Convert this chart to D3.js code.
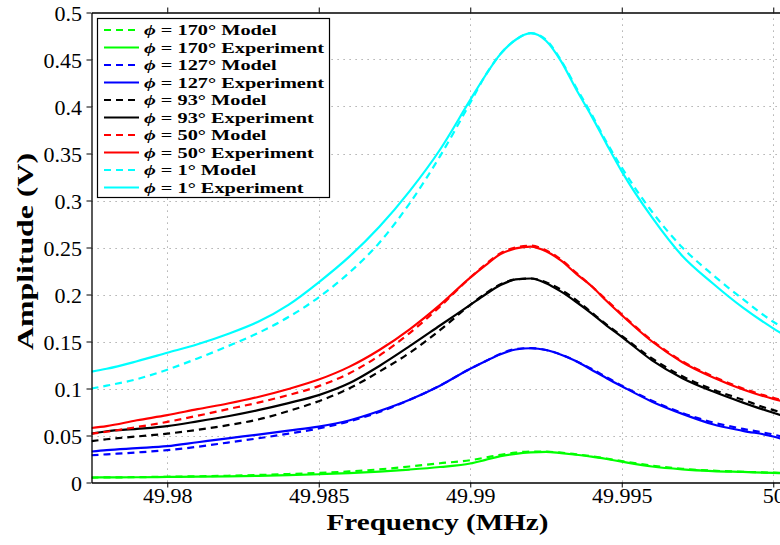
<!DOCTYPE html>
<html>
<head>
<meta charset="utf-8">
<script src="https://cdn.jsdelivr.net/npm/d3@7"></script>
<style>
  body { margin: 0; background: #fff; }
  svg { display: block; }
  .serif { font-family: "Liberation Serif", "Times New Roman", Times, serif; }
</style>
</head>
<body>
<svg id="chart" width="780" height="545"></svg>
<script>
// Frequency samples (MHz)
const freq = [49.9775, 49.978, 49.979, 49.980, 49.981, 49.982, 49.983, 49.984, 49.985, 49.986,
              49.987, 49.988, 49.989, 49.990, 49.9905, 49.991, 49.9915, 49.992, 49.9925, 49.993,
              49.9935, 49.994, 49.9945, 49.995, 49.996, 49.997, 49.998, 49.999, 50.000, 50.00025];

// Amplitude (V) per phase angle: model and measured
const model170 = [0.0052, 0.0054, 0.0057, 0.0061, 0.0066, 0.0072, 0.0080, 0.0090, 0.0102, 0.0118,
                  0.0140, 0.0170, 0.0205, 0.0237, 0.0265, 0.0295, 0.0318, 0.0330, 0.0328, 0.0318,
                  0.0300, 0.0280, 0.0255, 0.0228, 0.0180, 0.0146, 0.0126, 0.0114, 0.0104, 0.0101];
const exp170   = [0.0053, 0.0054, 0.0056, 0.0059, 0.0062, 0.0066, 0.0071, 0.0078, 0.0088, 0.0100,
                  0.0116, 0.0138, 0.0165, 0.0202, 0.0240, 0.0280, 0.0305, 0.0320, 0.0326, 0.0312,
                  0.0295, 0.0275, 0.0250, 0.0222, 0.0170, 0.0140, 0.0122, 0.0112, 0.0102, 0.0100];
const model127 = [0.029, 0.030, 0.032, 0.0344, 0.038, 0.0425, 0.047, 0.052, 0.0575, 0.065,
                  0.075, 0.088, 0.103, 0.121, 0.129, 0.137, 0.142, 0.143, 0.141, 0.136,
                  0.129, 0.121, 0.112, 0.103, 0.087, 0.074, 0.064, 0.057, 0.051, 0.049];
const exp127   = [0.033, 0.0345, 0.0365, 0.0386, 0.0428, 0.047, 0.051, 0.0552, 0.0595, 0.066,
                  0.076, 0.088, 0.103, 0.121, 0.129, 0.1365, 0.1415, 0.1428, 0.141, 0.136,
                  0.129, 0.120, 0.111, 0.1024, 0.086, 0.073, 0.062, 0.055, 0.049, 0.0466];
const model93  = [0.044, 0.046, 0.049, 0.052, 0.056, 0.061, 0.067, 0.076, 0.0865, 0.100,
                  0.118, 0.138, 0.162, 0.189, 0.201, 0.211, 0.216, 0.217, 0.213, 0.205,
                  0.194, 0.181, 0.168, 0.156, 0.132, 0.113, 0.099, 0.088, 0.077, 0.075];
const exp93    = [0.052, 0.0545, 0.057, 0.060, 0.065, 0.0705, 0.077, 0.0845, 0.093, 0.1055,
                  0.124, 0.145, 0.167, 0.189, 0.200, 0.210, 0.216, 0.217, 0.212, 0.203,
                  0.192, 0.180, 0.167, 0.155, 0.130, 0.111, 0.097, 0.085, 0.0742, 0.0716];
const model50  = [0.052, 0.054, 0.059, 0.0645, 0.071, 0.078, 0.085, 0.093, 0.1025, 0.116,
                  0.135, 0.159, 0.187, 0.218, 0.232, 0.244, 0.250, 0.252, 0.247, 0.237,
                  0.223, 0.209, 0.194, 0.179, 0.151, 0.129, 0.113, 0.100, 0.090, 0.088];
const exp50    = [0.058, 0.060, 0.0662, 0.0716, 0.078, 0.084, 0.091, 0.0995, 0.1095, 0.123,
                  0.141, 0.163, 0.189, 0.218, 0.231, 0.243, 0.249, 0.251, 0.246, 0.236,
                  0.222, 0.209, 0.193, 0.178, 0.150, 0.128, 0.112, 0.099, 0.089, 0.087];
const model1   = [0.100, 0.103, 0.110, 0.120, 0.132, 0.145, 0.159, 0.176, 0.197, 0.223,
                  0.255, 0.297, 0.347, 0.404, 0.433, 0.456, 0.471, 0.478, 0.471, 0.449,
                  0.420, 0.392, 0.362, 0.335, 0.288, 0.250, 0.221, 0.195, 0.171, 0.166];
const exp1     = [0.118, 0.121, 0.129, 0.138, 0.147, 0.158, 0.171, 0.189, 0.213, 0.240,
                  0.272, 0.310, 0.354, 0.407, 0.433, 0.456, 0.471, 0.478, 0.470, 0.448,
                  0.418, 0.390, 0.360, 0.331, 0.282, 0.241, 0.212, 0.186, 0.164, 0.159];

// Series in plotting / legend order
const seriesAngles = ["170", "170", "127", "127", "93", "93", "50", "50", "1", "1"];
const seriesKinds  = ["Model", "Experiment", "Model", "Experiment", "Model", "Experiment",
                      "Model", "Experiment", "Model", "Experiment"];
const seriesValues = [model170, exp170, model127, exp127, model93, exp93, model50, exp50, model1, exp1];
const seriesColors = ["#00ff00", "#00ff00", "#0000ff", "#0000ff", "#000000", "#000000",
                      "#ff0000", "#ff0000", "#00ffff", "#00ffff"];

// Tick labels
const xTicks = [49.98, 49.985, 49.99, 49.995, 50];
const xTickLabels = ["49.98", "49.985", "49.99", "49.995", "50"];
const yTicks = [0, 0.05, 0.1, 0.15, 0.2, 0.25, 0.3, 0.35, 0.4, 0.45, 0.5];
const yTickLabels = ["0", "0.05", "0.1", "0.15", "0.2", "0.25", "0.3", "0.35", "0.4", "0.45", "0.5"];

const svg = d3.select("#chart");
const plot = { left: 91.5, top: 12.5, bottom: 482.5, right: 788.4 };

const x = d3.scaleLinear().domain([49.9775, 50.0005]).range([plot.left, plot.right]);
const y = d3.scaleLinear().domain([0, 0.5]).range([plot.bottom, plot.top]);

// Dotted grid
const grid = svg.append("g").attr("stroke", "#9a9a9a").attr("stroke-width", 1)
  .attr("stroke-dasharray", "1.2,4.8").attr("fill", "none");
grid.selectAll("line.gx").data(xTicks).join("line")
  .attr("x1", d => Math.round(x(d)) + 0.5).attr("x2", d => Math.round(x(d)) + 0.5)
  .attr("y1", plot.top).attr("y2", plot.bottom);
grid.selectAll("line.gy").data(yTicks.slice(1, -1)).join("line")
  .attr("x1", plot.left).attr("x2", 780)
  .attr("y1", d => Math.round(y(d)) + 0.5).attr("y2", d => Math.round(y(d)) + 0.5);

// Curves
svg.append("clipPath").attr("id", "plotClip").append("rect")
  .attr("x", plot.left).attr("y", plot.top)
  .attr("width", plot.right - plot.left).attr("height", plot.bottom - plot.top);

const line = d3.line().x((d, i) => x(freq[i])).y(d => y(d)).curve(d3.curveMonotoneX);
svg.append("g").attr("clip-path", "url(#plotClip)")
  .selectAll("path").data(seriesValues).join("path")
  .attr("d", d => line(d))
  .attr("fill", "none")
  .attr("stroke", (d, i) => seriesColors[i])
  .attr("stroke-width", 2.2)
  .attr("stroke-linejoin", "round")
  .attr("stroke-dasharray", (d, i) => seriesKinds[i] === "Model" ? "7,5" : null);

// Axes
function styleAxis(g) {
  g.attr("font-family", null).attr("font-size", null);
  g.select(".domain").attr("stroke", "#000").attr("stroke-width", 1.3);
  g.selectAll(".tick line").attr("stroke", "#000").attr("stroke-width", 1);
  g.selectAll(".tick text").attr("class", "serif").style("font-size", "22px").attr("fill", "#000");
}

svg.append("g").attr("transform", `translate(0,${plot.bottom})`)
  .call(d3.axisBottom(x).tickValues(xTicks).tickFormat((d, i) => xTickLabels[i])
    .tickSize(5).tickSizeOuter(0).tickPadding(0))
  .call(styleAxis)
  .call(g => g.selectAll(".tick text").attr("y", 0).attr("dy", "20.5px"));

svg.append("g").attr("transform", `translate(0,${plot.top})`)
  .call(d3.axisTop(x).tickValues(xTicks).tickFormat("").tickSize(5).tickSizeOuter(0))
  .call(styleAxis);

svg.append("g").attr("transform", `translate(${plot.left},0)`)
  .call(d3.axisLeft(y).tickValues(yTicks).tickFormat((d, i) => yTickLabels[i])
    .tickSize(5).tickSizeOuter(0).tickPadding(4.5))
  .call(styleAxis)
  .call(g => g.selectAll(".tick text").attr("dy", "0.36em"));

// Axis titles
svg.append("text").attr("class", "serif")
  .attr("x", 326.5).attr("y", 530)
  .style("font-weight", "bold").style("font-size", "24px")
  .attr("textLength", 222).attr("lengthAdjust", "spacingAndGlyphs")
  .text("Frequency (MHz)");

svg.append("text").attr("class", "serif")
  .attr("transform", "translate(33,350) rotate(-90)")
  .style("font-weight", "bold").style("font-size", "24px")
  .attr("textLength", 197).attr("lengthAdjust", "spacingAndGlyphs")
  .text("Amplitude (V)");

// Legend
const legend = svg.append("g");
legend.append("rect")
  .attr("x", 97.5).attr("y", 18.5).attr("width", 232).attr("height", 179)
  .attr("fill", "#fff").attr("stroke", "#000").attr("stroke-width", 1.2);

const rows = legend.selectAll("g.row").data(seriesKinds).join("g")
  .attr("transform", (d, i) => `translate(0,${30 + i * 17.5})`);
rows.append("line")
  .attr("x1", 104).attr("x2", 139).attr("y1", 0).attr("y2", 0)
  .attr("stroke", (d, i) => seriesColors[i]).attr("stroke-width", 2.2)
  .attr("stroke-dasharray", d => d === "Model" ? "7,5" : null);
const labels = rows.append("text").attr("class", "serif")
  .attr("x", 144).attr("y", 5)
  .style("font-weight", "bold").style("font-size", "15.5px");
labels.append("tspan").style("font-style", "italic").text("\u03D5");
labels.append("tspan").text((d, i) => ` = ${seriesAngles[i]}\u00B0 ${d}`);

// Widen legend text to the extended bold face proportions
const widths = labels.nodes().map(n => n.getComputedTextLength());
const k = 180 / d3.max(widths);
labels.attr("textLength", (d, i) => widths[i] * k).attr("lengthAdjust", "spacingAndGlyphs");
</script>
</body>
</html>
